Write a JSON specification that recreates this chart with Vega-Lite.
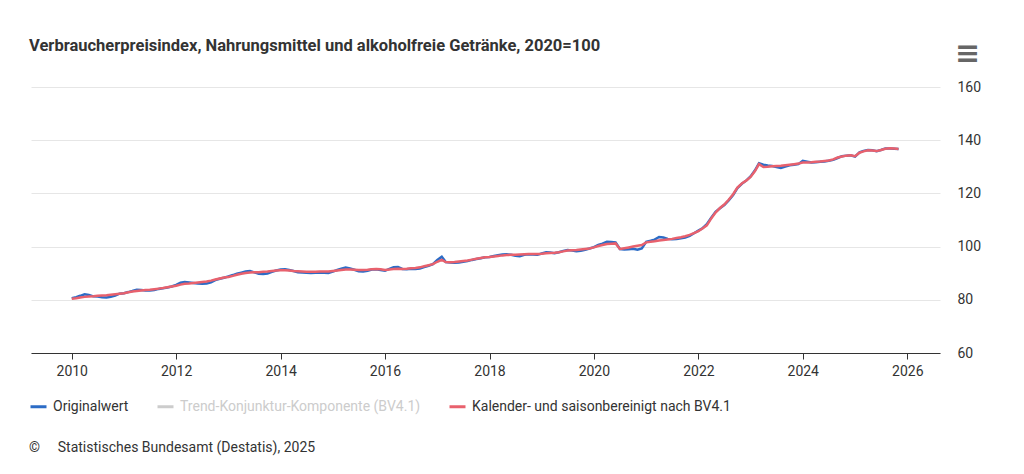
{
  "$schema": "https://vega.github.io/schema/vega-lite/v6.json",
  "width": 909,
  "height": 266,
  "autosize": {"type": "none"},
  "padding": {"left": 31, "top": 87, "right": 84, "bottom": 121},
  "background": "white",
  "title": {"text": "Verbraucherpreisindex, Nahrungsmittel und alkoholfreie Getränke, 2020=100", "anchor": "start", "font": "Roboto", "fontSize": 16.5, "fontWeight": "bold", "color": "#333333", "offset": -16},
  "data": {"values": [
{"d":"2010-01","o":80.6,"s":80.4},{"d":"2010-02","o":81.0,"s":80.6},{"d":"2010-03","o":81.5,"s":80.9},{"d":"2010-04","o":82.1,"s":81.1},{"d":"2010-05","o":81.8,"s":81.2},{"d":"2010-06","o":81.3,"s":81.3},{"d":"2010-07","o":81.2,"s":81.5},{"d":"2010-08","o":81.0,"s":81.6},{"d":"2010-09","o":80.9,"s":81.7},{"d":"2010-10","o":81.1,"s":81.9},{"d":"2010-11","o":81.6,"s":82.1},{"d":"2010-12","o":82.3,"s":82.3},
{"d":"2011-01","o":82.5,"s":82.5},{"d":"2011-02","o":82.9,"s":82.8},{"d":"2011-03","o":83.3,"s":83.1},{"d":"2011-04","o":83.8,"s":83.3},{"d":"2011-05","o":83.7,"s":83.5},{"d":"2011-06","o":83.5,"s":83.7},{"d":"2011-07","o":83.5,"s":83.8},{"d":"2011-08","o":83.7,"s":84.0},{"d":"2011-09","o":84.1,"s":84.2},{"d":"2011-10","o":84.3,"s":84.4},{"d":"2011-11","o":84.6,"s":84.7},{"d":"2011-12","o":85.0,"s":85.0},
{"d":"2012-01","o":85.6,"s":85.3},{"d":"2012-02","o":86.4,"s":85.7},{"d":"2012-03","o":86.7,"s":86.0},{"d":"2012-04","o":86.5,"s":86.1},{"d":"2012-05","o":86.3,"s":86.3},{"d":"2012-06","o":86.1,"s":86.5},{"d":"2012-07","o":86.0,"s":86.7},{"d":"2012-08","o":86.1,"s":86.9},{"d":"2012-09","o":86.6,"s":87.2},{"d":"2012-10","o":87.4,"s":87.6},{"d":"2012-11","o":87.9,"s":88.0},{"d":"2012-12","o":88.3,"s":88.4},
{"d":"2013-01","o":88.8,"s":88.6},{"d":"2013-02","o":89.3,"s":89.0},{"d":"2013-03","o":89.8,"s":89.4},{"d":"2013-04","o":90.2,"s":89.8},{"d":"2013-05","o":90.6,"s":90.1},{"d":"2013-06","o":90.8,"s":90.3},{"d":"2013-07","o":90.3,"s":90.4},{"d":"2013-08","o":89.8,"s":90.4},{"d":"2013-09","o":89.7,"s":90.5},{"d":"2013-10","o":89.9,"s":90.6},{"d":"2013-11","o":90.5,"s":90.8},{"d":"2013-12","o":91.0,"s":91.0},
{"d":"2014-01","o":91.4,"s":91.1},{"d":"2014-02","o":91.5,"s":91.1},{"d":"2014-03","o":91.2,"s":91.0},{"d":"2014-04","o":90.8,"s":90.8},{"d":"2014-05","o":90.4,"s":90.7},{"d":"2014-06","o":90.3,"s":90.6},{"d":"2014-07","o":90.2,"s":90.5},{"d":"2014-08","o":90.1,"s":90.5},{"d":"2014-09","o":90.2,"s":90.5},{"d":"2014-10","o":90.3,"s":90.6},{"d":"2014-11","o":90.2,"s":90.6},{"d":"2014-12","o":90.1,"s":90.6},
{"d":"2015-01","o":90.6,"s":90.8},{"d":"2015-02","o":91.2,"s":91.0},{"d":"2015-03","o":91.7,"s":91.2},{"d":"2015-04","o":92.1,"s":91.4},{"d":"2015-05","o":91.8,"s":91.4},{"d":"2015-06","o":91.3,"s":91.3},{"d":"2015-07","o":90.7,"s":91.2},{"d":"2015-08","o":90.6,"s":91.2},{"d":"2015-09","o":90.9,"s":91.3},{"d":"2015-10","o":91.4,"s":91.5},{"d":"2015-11","o":91.5,"s":91.6},{"d":"2015-12","o":91.2,"s":91.5},
{"d":"2016-01","o":90.9,"s":91.2},{"d":"2016-02","o":91.6,"s":91.4},{"d":"2016-03","o":92.2,"s":91.6},{"d":"2016-04","o":92.3,"s":91.7},{"d":"2016-05","o":91.6,"s":91.6},{"d":"2016-06","o":91.5,"s":91.7},{"d":"2016-07","o":91.7,"s":91.9},{"d":"2016-08","o":91.6,"s":92.0},{"d":"2016-09","o":91.8,"s":92.2},{"d":"2016-10","o":92.3,"s":92.6},{"d":"2016-11","o":92.8,"s":93.0},{"d":"2016-12","o":93.4,"s":93.4},
{"d":"2017-01","o":95.0,"s":94.3},{"d":"2017-02","o":96.2,"s":95.0},{"d":"2017-03","o":94.2,"s":94.2},{"d":"2017-04","o":94.0,"s":94.1},{"d":"2017-05","o":93.9,"s":94.2},{"d":"2017-06","o":94.0,"s":94.4},{"d":"2017-07","o":94.3,"s":94.6},{"d":"2017-08","o":94.6,"s":94.8},{"d":"2017-09","o":95.0,"s":95.1},{"d":"2017-10","o":95.3,"s":95.4},{"d":"2017-11","o":95.6,"s":95.7},{"d":"2017-12","o":96.0,"s":96.0},
{"d":"2018-01","o":96.1,"s":96.1},{"d":"2018-02","o":96.5,"s":96.3},{"d":"2018-03","o":96.8,"s":96.5},{"d":"2018-04","o":97.0,"s":96.7},{"d":"2018-05","o":97.1,"s":96.8},{"d":"2018-06","o":96.9,"s":96.9},{"d":"2018-07","o":96.6,"s":96.9},{"d":"2018-08","o":96.4,"s":97.0},{"d":"2018-09","o":96.9,"s":97.1},{"d":"2018-10","o":97.1,"s":97.2},{"d":"2018-11","o":97.0,"s":97.2},{"d":"2018-12","o":96.9,"s":97.2},
{"d":"2019-01","o":97.4,"s":97.3},{"d":"2019-02","o":97.9,"s":97.5},{"d":"2019-03","o":97.8,"s":97.6},{"d":"2019-04","o":97.5,"s":97.7},{"d":"2019-05","o":97.9,"s":97.9},{"d":"2019-06","o":98.4,"s":98.2},{"d":"2019-07","o":98.7,"s":98.5},{"d":"2019-08","o":98.5,"s":98.6},{"d":"2019-09","o":98.3,"s":98.7},{"d":"2019-10","o":98.4,"s":98.9},{"d":"2019-11","o":98.8,"s":99.1},{"d":"2019-12","o":99.3,"s":99.3},
{"d":"2020-01","o":99.8,"s":99.7},{"d":"2020-02","o":100.6,"s":100.2},{"d":"2020-03","o":101.1,"s":100.6},{"d":"2020-04","o":101.8,"s":101.0},{"d":"2020-05","o":101.7,"s":101.1},{"d":"2020-06","o":101.6,"s":101.2},{"d":"2020-07","o":99.1,"s":99.1},{"d":"2020-08","o":98.9,"s":99.4},{"d":"2020-09","o":99.0,"s":99.7},{"d":"2020-10","o":99.2,"s":100.0},{"d":"2020-11","o":98.8,"s":100.3},{"d":"2020-12","o":99.3,"s":100.6},
{"d":"2021-01","o":101.8,"s":101.6},{"d":"2021-02","o":102.2,"s":101.8},{"d":"2021-03","o":102.6,"s":102.0},{"d":"2021-04","o":103.6,"s":102.3},{"d":"2021-05","o":103.4,"s":102.5},{"d":"2021-06","o":102.9,"s":102.7},{"d":"2021-07","o":102.8,"s":102.9},{"d":"2021-08","o":102.9,"s":103.2},{"d":"2021-09","o":103.1,"s":103.5},{"d":"2021-10","o":103.4,"s":103.9},{"d":"2021-11","o":104.0,"s":104.4},{"d":"2021-12","o":105.0,"s":105.1},
{"d":"2022-01","o":106.0,"s":105.8},{"d":"2022-02","o":107.0,"s":106.9},{"d":"2022-03","o":108.4,"s":108.0},{"d":"2022-04","o":110.9,"s":110.6},{"d":"2022-05","o":113.1,"s":112.8},{"d":"2022-06","o":114.4,"s":114.5},{"d":"2022-07","o":115.6,"s":115.8},{"d":"2022-08","o":117.4,"s":117.6},{"d":"2022-09","o":119.4,"s":119.7},{"d":"2022-10","o":122.0,"s":122.2},{"d":"2022-11","o":123.6,"s":123.7},{"d":"2022-12","o":124.8,"s":124.8},
{"d":"2023-01","o":126.4,"s":126.2},{"d":"2023-02","o":128.7,"s":128.4},{"d":"2023-03","o":131.3,"s":131.0},{"d":"2023-04","o":130.8,"s":129.9},{"d":"2023-05","o":130.5,"s":130.0},{"d":"2023-06","o":130.3,"s":130.2},{"d":"2023-07","o":129.9,"s":130.3},{"d":"2023-08","o":129.6,"s":130.4},{"d":"2023-09","o":130.1,"s":130.6},{"d":"2023-10","o":130.6,"s":130.8},{"d":"2023-11","o":130.8,"s":131.0},{"d":"2023-12","o":131.0,"s":131.2},
{"d":"2024-01","o":132.2,"s":131.6},{"d":"2024-02","o":131.9,"s":131.6},{"d":"2024-03","o":131.6,"s":131.7},{"d":"2024-04","o":131.7,"s":131.9},{"d":"2024-05","o":131.9,"s":132.0},{"d":"2024-06","o":132.0,"s":132.2},{"d":"2024-07","o":132.3,"s":132.4},{"d":"2024-08","o":132.6,"s":132.8},{"d":"2024-09","o":133.3,"s":133.5},{"d":"2024-10","o":134.0,"s":133.9},{"d":"2024-11","o":134.2,"s":134.2},{"d":"2024-12","o":134.3,"s":134.3},
{"d":"2025-01","o":133.8,"s":134.0},{"d":"2025-02","o":135.4,"s":135.3},{"d":"2025-03","o":136.0,"s":135.8},{"d":"2025-04","o":136.3,"s":136.2},{"d":"2025-05","o":136.2,"s":136.1},{"d":"2025-06","o":135.9,"s":135.9},{"d":"2025-07","o":136.3,"s":136.3},{"d":"2025-08","o":136.9,"s":136.8},{"d":"2025-09","o":136.9,"s":137.0},{"d":"2025-10","o":136.8,"s":136.9},{"d":"2025-11","o":136.7,"s":136.7}
  ]},
  "transform": [{"fold": ["o", "s"], "as": ["series", "value"]}],
  "mark": {"type": "line", "strokeWidth": 2.5},
  "encoding": {
    "x": {"field": "d", "type": "temporal",
      "scale": {"domain": [{"year": 2009, "month": 3, "date": 22}, {"year": 2026, "month": 8, "date": 18}]},
      "axis": {"title": null, "format": "%Y", "tickCount": {"interval": "year", "step": 2}, "grid": false, "domainColor": "#333333", "domainWidth": 1, "tickColor": "#333333", "tickSize": 6, "labelFontSize": 14, "labelColor": "#333333", "labelPadding": 5, "labelFont": "Roboto", "labelFlush": false}},
    "y": {"field": "value", "type": "quantitative",
      "scale": {"domain": [60, 160], "nice": false, "zero": false},
      "axis": {"orient": "right", "title": "≡", "titleAngle": 0, "titleX": 27, "titleY": -34, "titleAlign": "center", "titleBaseline": "middle", "titleFont": "DejaVu Sans", "titleFontSize": 30, "titleFontWeight": "bold", "titleColor": "#666666",
        "values": [60, 80, 100, 120, 140, 160], "domain": false, "ticks": false, "grid": true, "gridColor": "#e6e6e6", "labelPadding": 17, "labelFontSize": 14, "labelColor": "#333333", "labelFont": "Roboto"}},
    "color": {"field": "series", "type": "nominal",
      "scale": {"domain": ["o", "t", "s"], "range": ["#2c6cc6", "#cccccc", "#e8616d"]},
      "legend": {"orient": "none", "legendX": -2, "legendY": 310, "direction": "horizontal",
        "title": "©\u2003 Statistisches Bundesamt (Destatis), 2025", "titleOrient": "bottom", "titleAnchor": "start", "titlePadding": 27, "titleLimit": 600,
        "titleFontSize": 14, "titleFontWeight": "normal", "titleColor": "#333333", "titleFont": "Roboto",
        "symbolType": "stroke", "symbolSize": 256, "symbolStrokeWidth": 3,
        "labelFontSize": 14, "labelColor": "#333333", "labelFont": "Roboto", "labelOffset": 5, "columnPadding": 22, "labelLimit": 400,
        "labelExpr": "datum.value == 'o' ? 'Originalwert' : datum.value == 't' ? 'Trend-Konjunktur-Komponente (BV4.1)' : 'Kalender- und saisonbereinigt nach BV4.1'",
        "encode": {"labels": {"update": {"fill": {"signal": "datum.value == 't' ? '#cccccc' : '#333333'"}}}}}}
  },
  "config": {"view": {"stroke": null}, "font": "Roboto"}
}
